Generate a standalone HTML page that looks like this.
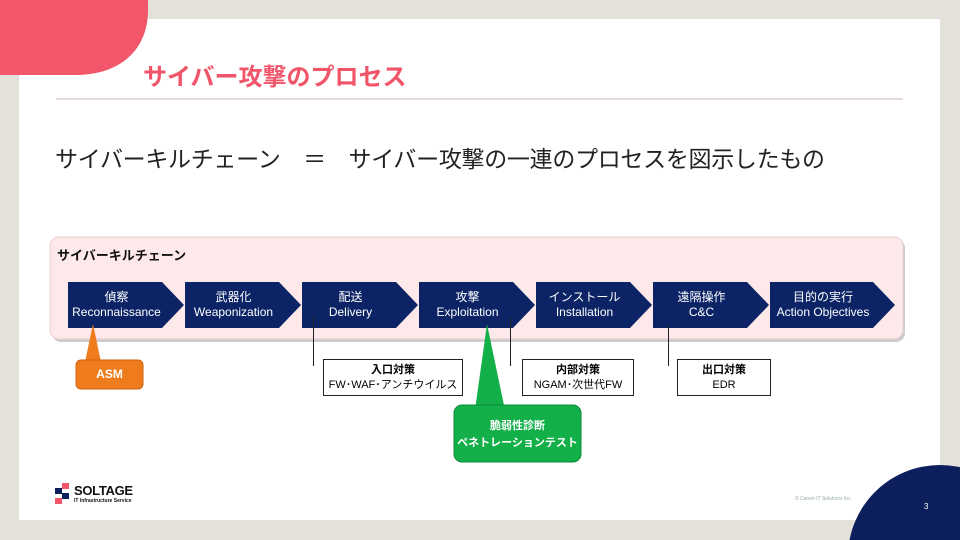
<!DOCTYPE html>
<html><head><meta charset="utf-8"><style>
html,body{margin:0;width:960px;height:540px;overflow:hidden}
body{background:#e4e1da;position:relative;font-family:"Liberation Sans","Noto Sans CJK JP",sans-serif}
.a{position:absolute}
.slide{left:19px;top:19px;width:921px;height:501px;background:#fff}
.chev{top:282px;height:46px;color:#fff;font-size:12px;text-align:center;line-height:15px}
.chev svg{position:absolute;left:0;top:0}
.chev div{position:relative;padding-top:8px;width:97px}
.box{border:1px solid #222;background:#fff;font-size:11px;text-align:center;line-height:15px;top:359px;height:37px;box-sizing:border-box;padding-top:3px}
.vl{width:1px;background:#222}
</style></head><body>
<div class="a slide"></div>
<svg class="a" style="left:0;top:0" width="960" height="540">
<path d="M0 0H148V10C148 50 120 75 75 75H0Z" fill="#f2566a"/>
<circle cx="940" cy="557" r="92" fill="#0c1e5b"/>
<line x1="56" y1="99" x2="903" y2="99" stroke="#c9b5b8" stroke-width="1"/>
<rect x="52" y="239" width="853" height="103" rx="9" fill="#ccc"/>
<rect x="50" y="237" width="853" height="102" rx="9" fill="#fde8ea" stroke="#e4d0d3"/>
</svg>
<div class="a" style="left:143px;top:57px;color:#f0556a;font-size:24px;font-weight:bold">サイバー攻撃のプロセス</div>
<div class="a" style="left:55px;top:140px;color:#222;font-size:23px;white-space:pre;letter-spacing:-0.3px">サイバーキルチェーン　＝　サイバー攻撃の一連のプロセスを図示したもの</div>
<div class="a" style="left:57px;top:245px;font-size:13px;font-weight:bold;color:#111">サイバーキルチェーン</div>

<div class="a chev" style="left:68px"><svg width="117" height="46"><path d="M0 0H94L116 23L94 46H0Z" fill="#0c2466"/></svg><div>偵察<br>Reconnaissance</div></div>
<div class="a chev" style="left:185px"><svg width="117" height="46"><path d="M0 0H94L116 23L94 46H0Z" fill="#0c2466"/></svg><div>武器化<br>Weaponization</div></div>
<div class="a chev" style="left:302px"><svg width="117" height="46"><path d="M0 0H94L116 23L94 46H0Z" fill="#0c2466"/></svg><div>配送<br>Delivery</div></div>
<div class="a chev" style="left:419px"><svg width="117" height="46"><path d="M0 0H94L116 23L94 46H0Z" fill="#0c2466"/></svg><div>攻撃<br>Exploitation</div></div>
<div class="a chev" style="left:536px"><svg width="117" height="46"><path d="M0 0H94L116 23L94 46H0Z" fill="#0c2466"/></svg><div>インストール<br>Installation</div></div>
<div class="a chev" style="left:653px"><svg width="117" height="46"><path d="M0 0H94L116 23L94 46H0Z" fill="#0c2466"/></svg><div>遠隔操作<br>C&amp;C</div></div>
<div class="a chev" style="left:770px"><svg width="126" height="46"><path d="M0 0H103L125 23L103 46H0Z" fill="#0c2466"/></svg><div style="width:106px">目的の実行<br>Action Objectives</div></div>

<svg class="a" style="left:0;top:0" width="960" height="540">
<path d="M85 362 L93 324 L101 362 Z" fill="#ef7c1c"/>
<rect x="76" y="360" width="67" height="29" rx="5" fill="#ef7c1c" stroke="#d06010"/>
<path d="M475 410 L487 324 L505 410 Z" fill="#13b04a"/>
<rect x="454" y="405" width="127" height="57" rx="8" fill="#13b04a" stroke="#0d8a38"/>
</svg>

<div class="a vl" style="left:313px;top:316px;height:50px"></div>
<div class="a vl" style="left:510px;top:318px;height:48px"></div>
<div class="a vl" style="left:668px;top:326px;height:40px"></div>
<div class="a box" style="left:323px;width:140px"><b>入口対策</b><br>FW･WAF･アンチウイルス</div>
<div class="a box" style="left:522px;width:112px"><b>内部対策</b><br>NGAM･次世代FW</div>
<div class="a box" style="left:677px;width:94px"><b>出口対策</b><br>EDR</div>

<div class="a" style="left:76px;top:367px;width:67px;text-align:center;color:#fff;font-weight:bold;font-size:12px">ASM</div>
<div class="a" style="left:454px;top:418px;width:127px;text-align:center;color:#fff;font-weight:bold;font-size:11px;line-height:17px">脆弱性診断<br>ペネトレーションテスト</div>

<svg class="a" style="left:55px;top:483px" width="16" height="22"><rect x="7" y="0" width="7" height="6" fill="#f2566a"/><rect x="0" y="5" width="7" height="6" fill="#0c1e5b"/><rect x="7" y="10" width="7" height="6" fill="#0c1e5b"/><rect x="0" y="15" width="7" height="6" fill="#f2566a"/></svg>
<div class="a" style="left:74px;top:483px;font-size:13px;font-weight:bold;color:#111;letter-spacing:-0.3px">SOLTAGE</div>
<div class="a" style="left:74px;top:498px;font-size:5px;color:#111;font-weight:bold">IT Infrastructure Service</div>
<div class="a" style="left:795px;top:496px;font-size:5px;color:#9aa">© Canon IT Solutions Inc.</div>
<div class="a" style="left:924px;top:502px;font-size:8px;color:#fff">3</div>
</body></html>
